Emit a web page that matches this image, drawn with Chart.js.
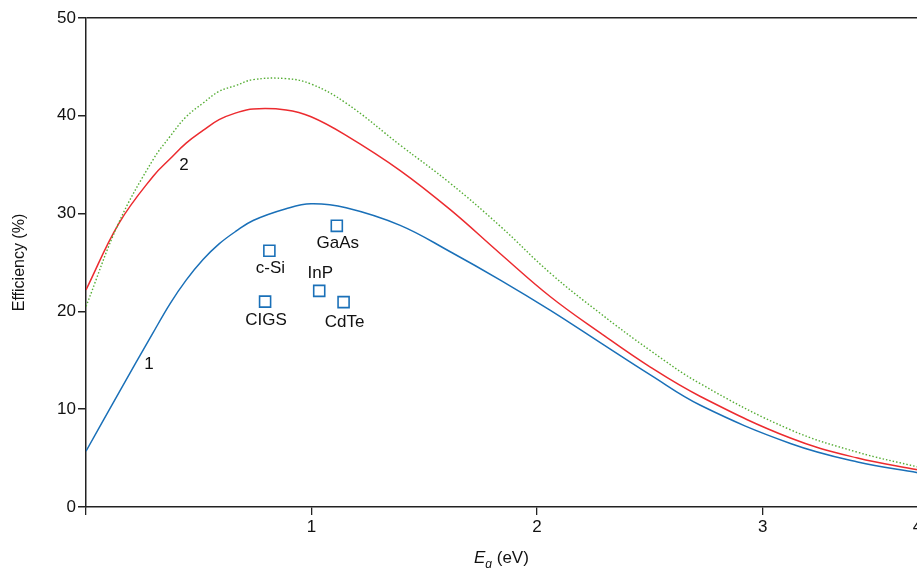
<!DOCTYPE html>
<html>
<head>
<meta charset="utf-8">
<script src="https://cdn.jsdelivr.net/npm/chart.js@4.4.1/dist/chart.umd.min.js"></script>
<style>
  html, body { margin: 0; padding: 0; background: #fff; overflow: hidden; }
  #marco { width: 917px; height: 568px; overflow: hidden; }
  #wrap { width: 927px; height: 568px; }
</style>
</head>
<body>
<div id="marco"><div id="wrap"><canvas id="grafica"></canvas></div></div>
<script>
// band gap (eV) and efficiency (%)
const eg = [0, 0.146, 0.297, 0.373, 0.444, 0.519, 0.59, 0.665, 0.741, 0.887, 0.998, 1.153, 1.393, 1.615, 1.837, 2.059, 2.28, 2.502, 2.724, 3.123, 3.421, 3.687];
const curva1 = [5.7, 11.7, 17.8, 20.8, 23.2, 25.3, 26.9, 28.2, 29.3, 30.5, 31.0, 30.6, 28.8, 26.1, 23.2, 20.1, 16.8, 13.5, 10.4, 6.5, 4.6, 3.5];
const curva2 = [22.2, 29.0, 33.8, 35.6, 37.2, 38.5, 39.6, 40.3, 40.7, 40.6, 39.9, 38.0, 34.4, 30.4, 25.9, 21.5, 17.8, 14.3, 11.3, 7.05, 5.0, 3.8];
const curvaPunteada = [20.5, 29.1, 35.5, 37.9, 39.9, 41.3, 42.5, 43.1, 43.7, 43.8, 43.25, 41.3, 37.0, 33.1, 28.7, 23.9, 19.8, 16.0, 12.6, 7.9, 5.6, 4.1];

// solar cells
const celdas = ['c-Si', 'GaAs', 'InP', 'CIGS', 'CdTe'];
const celdaEg = [0.813, 1.112, 1.034, 0.794, 1.142];
const celdaEf = [26.2, 28.75, 22.1, 21.0, 20.95];

// curve numbers
const numeros = ['1', '2'];
const numeroEg = [0.275, 0.43];
const numeroEf = [14.7, 35.0];

const xTicks = [0, 1, 2, 3];
const xTickLabels = ['', '1', '2', '3', '4'];
const xMax = 3.687;

const FUENTE = '"Liberation Sans", Arial, sans-serif';
const NEGRO = '#222';

const pts = (ys) => eg.map((x, i) => ({ x: x, y: ys[i] }));

// texts: cell names, curve numbers, x title with subscript
const textos = {
  id: 'textos',
  afterDatasetsDraw(chart) {
    const { ctx, scales: { x, y } } = chart;
    ctx.save();
    ctx.fillStyle = '#111';
    ctx.font = '17px ' + FUENTE;
    ctx.textAlign = 'center';
    ctx.textBaseline = 'middle';
    const desp = [18, 17, -18, 19, 20];
    celdas.forEach((n, i) => {
      ctx.fillText(n, x.getPixelForValue(celdaEg[i]) + 1, y.getPixelForValue(celdaEf[i]) + desp[i]);
    });
    numeros.forEach((n, i) => {
      ctx.fillText(n, x.getPixelForValue(numeroEg[i]) + 1, y.getPixelForValue(numeroEf[i]) + 1);
    });
    // x title: E_g (eV)
    ctx.textAlign = 'left';
    ctx.textBaseline = 'alphabetic';
    const base = 563;
    let cx = 474;
    ctx.font = 'italic 17px ' + FUENTE;
    ctx.fillText('E', cx, base);
    cx += ctx.measureText('E').width;
    ctx.font = 'italic 12px ' + FUENTE;
    ctx.fillText('g', cx, base + 5);
    cx += ctx.measureText('g').width;
    ctx.font = '17px ' + FUENTE;
    ctx.fillText(' (eV)', cx, base);
    ctx.restore();
  }
};

const ctx = document.getElementById('grafica').getContext('2d');
const grafica = new Chart(ctx, {
  type: 'scatter',
  data: {
    datasets: [
      { data: pts(curvaPunteada), showLine: true, borderColor: '#55ad34', borderWidth: 1.4, borderDash: [1.5, 2], pointRadius: 0, tension: 0.4 },
      { data: pts(curva2), showLine: true, borderColor: '#ec2b2f', borderWidth: 1.5, pointRadius: 0, tension: 0.4 },
      { data: pts(curva1), showLine: true, borderColor: '#1a70b8', borderWidth: 1.5, pointRadius: 0, tension: 0.4 },
      { data: celdas.map((c, i) => ({ x: celdaEg[i], y: celdaEf[i] })), showLine: false, pointStyle: 'rect', pointRadius: 7.8, pointBorderWidth: 1.6, pointBorderColor: '#1a70b8', pointBackgroundColor: 'rgba(0,0,0,0)' }
    ]
  },
  options: {
    responsive: true,
    maintainAspectRatio: false,
    animation: false,
    layout: { padding: { top: 18, left: 0, right: 0, bottom: 0 } },
    plugins: { legend: { display: false }, tooltip: { enabled: false } },
    scales: {
      x: {
        type: 'linear', min: 0, max: xMax,
        afterBuildTicks: (s) => { s.ticks = xTicks.concat([xMax]).map(v => ({ value: v })); },
        afterFit: (s) => { s.height = 61; },
        ticks: {
          color: '#111', padding: 2, maxRotation: 0, autoSkip: false,
          font: { family: FUENTE, size: 17 },
          callback: (v, i) => xTickLabels[i]
        },
        grid: { drawOnChartArea: false, tickLength: 8, color: NEGRO, lineWidth: 1.3 },
        border: { color: NEGRO, width: 1.5 }
      },
      y: {
        min: 0, max: 50,
        afterFit: (s) => { s.width = 86; s.paddingTop = 0; s.paddingBottom = 0; },
        ticks: { stepSize: 10, color: '#111', padding: 2, font: { family: FUENTE, size: 17 } },
        grid: {
          tickLength: 8, lineWidth: 1.5,
          color: (c) => c.tick && c.tick.value === 50 ? NEGRO : 'rgba(0,0,0,0)',
          tickColor: NEGRO
        },
        border: { color: NEGRO, width: 1.5 },
        title: { display: true, text: 'Efficiency (%)', color: '#111', font: { family: FUENTE, size: 16 }, padding: { top: 10, bottom: 4 } }
      }
    }
  },
  plugins: [textos]
});
</script>
</body>
</html>
